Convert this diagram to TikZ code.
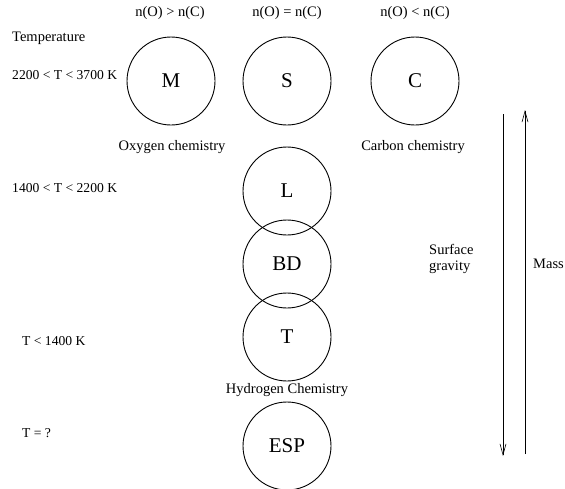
\documentclass[tikz,border=0pt]{standalone}
\usepackage{fontspec}
\setmainfont{Liberation Serif}
\usetikzlibrary{arrows.meta}
\tikzset{
  stage/.style={draw, circle, line width=0.9pt, minimum size=88pt, inner sep=0pt, font=\fontsize{21}{23}\selectfont},
  lbl/.style={font=\fontsize{14.5}{16}\selectfont, inner sep=0pt},
  templbl/.style={lbl, anchor=west, font=\fontsize{13.6}{15}\selectfont},
  axis/.style={line width=0.6pt, -{Straight Barb[length=11pt,width=6pt]}}
}
\begin{document}
\begin{tikzpicture}[x=1pt,y=-1pt]
			%%%%% START %%%%%
			\useasboundingbox (0, 0) rectangle (565, 488);
			
			\node[lbl] (ratioM) at (170, 13) {n(O) > n(C)};
			\node[lbl] (ratioS) at (287, 13) {n(O) = n(C)};
			\node[lbl] (ratioC) at (415, 13) {n(O) < n(C)};
			
			\node[lbl, anchor=west] (temp) at (12, 38) {Temperature};
			\node[templbl] (tempM) at (12, 75) {2200 < T < 3700 K};
			\node[templbl] (tempL) at (12, 188) {1400 < T < 2200 K};
			\node[templbl] (tempT) at (22, 341) {T < 1400 K};
			\node[templbl] (tempE) at (22, 433) {T = ?};
			
			\node[stage] (M) at (171, 81) {M};
			\node[stage] (S) at (287, 81) {S};
			\node[stage] (C) at (415, 81) {C};
			\node[stage] (L) at (287, 191) {L};
			\node[stage] (BD) at (287, 264) {BD};
			\node[stage] (T) at (287, 337) {T};
			\node[stage] (ESP) at (287, 446) {ESP};
			
			\node[lbl] (oxy) at (172, 147) {Oxygen chemistry};
			\node[lbl] (carb) at (413, 147) {Carbon chemistry};
			\node[lbl] (hyd) at (287, 390) {Hydrogen Chemistry};
			
			\node[lbl, align=left, anchor=west] (grav) at (429, 259) {Surface\\gravity};
			\node[lbl, anchor=west] (mass) at (533, 264) {Mass};
			
			\coordinate (gravTop) at (503, 114);
			\coordinate (gravBot) at (503, 456);
			\coordinate (massBot) at (525, 454);
			\coordinate (massTop) at (525, 110);
			\draw[axis] (gravTop) -- (gravBot);
			\draw[axis] (massBot) -- (massTop);
			
			%%%%% END %%%%%
\end{tikzpicture}
\end{document}
